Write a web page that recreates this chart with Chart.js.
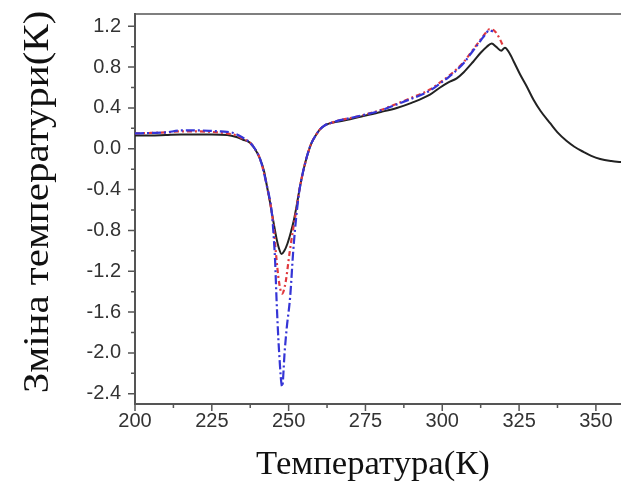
<!DOCTYPE html>
<html><head><meta charset="utf-8">
<script src="https://cdn.jsdelivr.net/npm/chart.js@4/dist/chart.umd.min.js"></script>
<style>html,body{margin:0;padding:0;background:#fff;overflow:hidden;width:621px;height:486px}#wrap{width:640px;height:486px;position:relative}</style>
</head><body><div id="wrap"><canvas id="c"></canvas></div>
<script>
const xTicks = [200,225,250,275,300,325,350];
const yTicks = [-2.4,-2.0,-1.6,-1.2,-0.8,-0.4,0.0,0.4,0.8,1.2];
const xMinorTicks = [212.5,237.5,262.5,287.5,312.5,337.5];
const yMinorTicks = [-2.2,-1.8,-1.4,-1.0,-0.6,-0.2,0.2,0.6,1.0];

const tempBlack = [200,205,210,215,220,225,230,233,235,237.4,239,240.7,242,242.9,243.8,244.5,245.2,246,246.8,247.7,248.6,249.6,250.7,251.7,252.6,253.4,254.3,255.3,256.4,257.5,258.8,260.2,261.8,263.5,266.7,270,274.3,280,285.2,290,296,299.3,302,304.7,307,310,312.5,314.5,316.1,317.5,319.2,320.4,321.8,323.5,325.3,327.5,329.7,332,335.1,337.5,340.5,343,345.9,348.5,351.4,355,358,362];
const deltaBlack = [0.13,0.13,0.135,0.14,0.14,0.14,0.135,0.115,0.09,0.06,0.0,-0.10,-0.22,-0.36,-0.5,-0.62,-0.74,-0.87,-0.97,-1.03,-1.0,-0.93,-0.82,-0.70,-0.56,-0.42,-0.28,-0.15,-0.03,0.06,0.13,0.19,0.23,0.25,0.27,0.29,0.32,0.36,0.40,0.45,0.53,0.60,0.65,0.69,0.75,0.85,0.94,1.0,1.03,1.0,0.96,0.99,0.94,0.84,0.73,0.61,0.48,0.37,0.25,0.16,0.075,0.02,-0.03,-0.07,-0.10,-0.12,-0.13,-0.14];

const tempRed = [200,205,210,215,220,225,230,233,235,237.4,239,240.7,242.9,244.5,245.2,245.8,246.9,247.9,249.0,250.3,251.5,252.6,253.4,254.3,255.3,256.4,257.5,258.8,260.2,261.8,263.5,266.7,270,274.3,280,285.2,290,296,299.3,302,304.7,307,310,312.5,314,315.3,316.8,318.3,319.9];
const deltaRed = [0.15,0.155,0.16,0.17,0.17,0.165,0.15,0.13,0.10,0.06,0.0,-0.10,-0.36,-0.62,-0.78,-1.0,-1.31,-1.42,-1.31,-1.02,-0.78,-0.58,-0.42,-0.28,-0.15,-0.03,0.06,0.13,0.19,0.23,0.25,0.28,0.30,0.33,0.38,0.44,0.50,0.58,0.65,0.71,0.78,0.85,0.97,1.07,1.13,1.17,1.16,1.10,1.0];

const tempBlue = [200,205,210,215,220,225,228,232,235,237.4,239,240.7,242.9,244.5,245.0,245.6,246.1,246.9,247.9,248.7,249.4,250.5,251.5,252.5,253.4,254.3,255.3,256.4,257.5,258.8,260.2,261.8,263.5,266.7,270,274.3,280,285.2,290,296,299.3,302,304.7,307,310,312.5,314,315.3,316.5];
const deltaBlue = [0.15,0.155,0.16,0.18,0.18,0.175,0.17,0.155,0.11,0.06,0.0,-0.10,-0.36,-0.62,-0.8,-1.1,-1.5,-1.99,-2.33,-1.99,-1.75,-1.45,-1.0,-0.66,-0.43,-0.28,-0.15,-0.03,0.06,0.13,0.19,0.23,0.25,0.28,0.30,0.33,0.375,0.435,0.49,0.57,0.64,0.70,0.77,0.84,0.96,1.06,1.12,1.16,1.15];

const pts = (xs, ys) => xs.map((x,i)=>({x:x, y:ys[i]}));

const AXIS = '#555';
const decor = {
  id:'decor',
  afterDraw(chart){
    const {ctx, chartArea:a, scales:{x, y}} = chart;
    ctx.save();
    ctx.strokeStyle = AXIS; ctx.lineWidth = 1.5;
    ctx.beginPath();
    ctx.moveTo(a.left, a.top); ctx.lineTo(a.right, a.top);
    xTicks.forEach(v=>{const p=x.getPixelForValue(v); ctx.moveTo(p,a.bottom); ctx.lineTo(p,a.bottom+7);});
    xMinorTicks.forEach(v=>{const p=x.getPixelForValue(v); ctx.moveTo(p,a.bottom); ctx.lineTo(p,a.bottom+4);});
    yTicks.forEach(v=>{const p=y.getPixelForValue(v); ctx.moveTo(a.left,p); ctx.lineTo(a.left-7,p);});
    yMinorTicks.forEach(v=>{const p=y.getPixelForValue(v); ctx.moveTo(a.left,p); ctx.lineTo(a.left-4,p);});
    ctx.stroke();
    ctx.fillStyle = '#111';
    ctx.textAlign = 'center'; ctx.textBaseline = 'middle';
    ctx.save();
    ctx.font = '33px "Liberation Serif"';
    ctx.translate(373, 465); ctx.scale(1.05, 1);
    ctx.fillText('Температура(К)', 0, 0);
    ctx.restore();
    ctx.font = '35px "Liberation Serif"';
    ctx.translate(39, 202); ctx.rotate(-Math.PI/2); ctx.scale(1.17, 1);
    ctx.fillText('Зміна температури(К)', 0, 0);
    ctx.restore();
  }
};

new Chart(document.getElementById('c'), {
  type:'line',
  data:{datasets:[
    {data:pts(tempBlue, deltaBlue), borderColor:'#3535d6', borderWidth:2.2, borderDash:[9,3,2,3], pointRadius:0, cubicInterpolationMode:'monotone'},
    {data:pts(tempRed, deltaRed), borderColor:'#e0393e', borderWidth:2.2, borderDash:[5,3,2,3], pointRadius:0, cubicInterpolationMode:'monotone'},
    {data:pts(tempBlack, deltaBlack), borderColor:'#222', borderWidth:2, pointRadius:0, cubicInterpolationMode:'monotone'}
  ]},
  options:{
    responsive:true, maintainAspectRatio:false, animation:false,
    layout:{padding:{top:0, right:10, left:0, bottom:0}},
    plugins:{legend:{display:false}, tooltip:{enabled:false}},
    scales:{
      x:{type:'linear', min:200, max:361.1,
        afterBuildTicks(s){ s.ticks = xTicks.map(v=>({value:v})); },
        afterFit(s){ s.height = 82; },
        grid:{display:false}, border:{display:true, color:AXIS, width:2},
        ticks:{color:'#333', font:{family:'"Liberation Sans"', size:20}, padding:-3, maxRotation:0, autoSkip:false,
          callback:v=>String(v)}},
      y:{min:-2.5, max:1.32,
        afterBuildTicks(s){ s.ticks = yTicks.map(v=>({value:v})); },
        afterFit(s){ s.width = 135; },
        grid:{display:false}, border:{display:true, color:AXIS, width:2},
        ticks:{color:'#333', font:{family:'"Liberation Sans"', size:20, lineHeight:0.8}, padding:6, autoSkip:false,
          callback:v=>v.toFixed(1)}}
    }
  },
  plugins:[decor]
});
</script></body></html>
